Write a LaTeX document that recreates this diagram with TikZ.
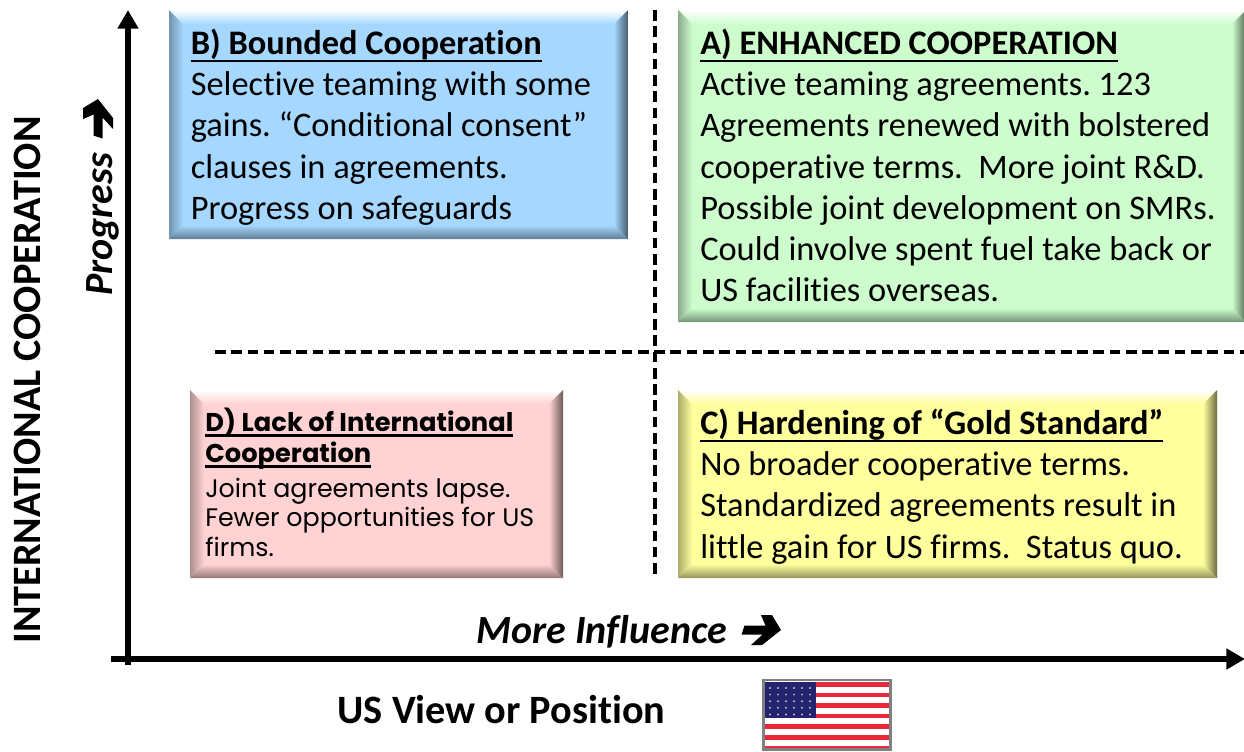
\documentclass[tikz,border=0pt]{standalone}
\usepackage{fontspec}
\setmainfont[Ligatures=NoCommon]{Carlito}
\newfontfamily\dfont{Poppins}
\usetikzlibrary{arrows.meta}
\frenchspacing
\newsavebox{\ulbox}
\newcommand{\ulined}[2][-5.6pt]{\sbox{\ulbox}{#2}\leavevmode\rlap{\rule[#1]{\wd\ulbox}{1.8pt}}\usebox{\ulbox}}
\definecolor{bbase}{HTML}{A6D8FF}
\definecolor{abase}{HTML}{CDFDCD}
\definecolor{dbase}{HTML}{FFD3D3}
\definecolor{cbase}{HTML}{FFFF9E}
\definecolor{flagred}{HTML}{E8283C}\definecolor{flagblue}{HTML}{23236F}
\tikzset{
  px/.style={x=0.75pt,y=-0.75pt},
  axisline/.style={line width=4.9pt,-{Triangle[length=14pt,width=15pt]}},
  divider/.style={line width=2.6pt,dash pattern=on 8pt off 4.2pt},
  bodytext/.style={anchor=north west,inner sep=0pt,align=left,font=\fontsize{25.8pt}{30.8pt}\selectfont},
  dhead/.style={anchor=north west,inner sep=0pt,align=left,font=\dfont\bfseries\fontsize{19.3pt}{23.2pt}\selectfont},
  dtext/.style={anchor=north west,inner sep=0pt,align=left,font=\dfont\fontsize{19pt}{22pt}\selectfont},
  axistitle/.style={inner sep=0pt,font=\bfseries\fontsize{30.2pt}{32pt}\selectfont},
  axisnote/.style={inner sep=0pt,font=\bfseries\itshape\fontsize{30pt}{32pt}\selectfont},
}
% #1 x1, #2 y1, #3 x2, #4 y2, #5 colour
\newcommand{\bevelbox}[5]{%
  \fill[#5] (#1,#2) rectangle (#3,#4);
  \shade[top color=white,bottom color=#5] (#1,#2) -- (#3,#2) -- (#3-14,#2+14) -- (#1+14,#2+14) -- cycle;
  \shade[left color=#5!68!black,right color=#5] (#1,#2) -- (#1+14,#2+14) -- (#1+14,#4-14) -- (#1,#4) -- cycle;
  \shade[top color=#5,middle color=#5!85!black,bottom color=#5!58!black] (#1,#4) -- (#1+14,#4-14) -- (#3-14,#4-14) -- (#3,#4) -- cycle;
  \shade[left color=#5,middle color=#5!92!black,right color=#5!42!black] (#3,#2) -- (#3-14,#2+14) -- (#3-14,#4-14) -- (#3,#4) -- cycle;
}
% block arrow: #1 centre x, #2 centre y, #3 rotation
\newcommand{\blockarrow}[3]{%
  \fill[shift={(#1,#2)},rotate=#3,xslant=0.33] (19,0) -- (5,-15) -- (-6,-15) -- (2,-4.5) -- (-19,-4.5) -- (-19,4.5) -- (2,4.5) -- (-6,15) -- (5,15) -- cycle;
}
\begin{document}
\begin{tikzpicture}[px]
\useasboundingbox (0,0) rectangle (1244,751);
\bevelbox{169}{10}{628}{239}{bbase}
\bevelbox{678}{10}{1246}{322}{abase}
\bevelbox{190}{390}{563}{578}{dbase}
\bevelbox{678}{390}{1217}{578}{cbase}
% dividers
\coordinate (vtop) at (655,10);
\coordinate (vbot) at (655,575);
\coordinate (hleft) at (215,352);
\coordinate (hright) at (1244,352);
\draw[divider] (vtop) -- (vbot);
\draw[divider] (hleft) -- (hright);
% axes
\coordinate (yfoot) at (128,665);
\coordinate (yhead) at (128,10);
\coordinate (xfoot) at (111,659);
\coordinate (xhead) at (1245,659);
\draw[axisline] (yfoot) -- (yhead);
\draw[axisline] (xfoot) -- (xhead);
% box texts
\node[bodytext] (btext) at (190.5,29) {\textbf{\ulined{B) Bounded Cooperation}}\\Selective teaming with some\\gains. “Conditional consent”\\clauses in agreements.\\Progress on safeguards};
\node[bodytext] (atext) at (700,29) {\textbf{\ulined{A) ENHANCED COOPERATION}}\\Active teaming agreements. 123\\Agreements renewed with bolstered\\cooperative terms.\ \ More joint R\&D.\\Possible joint development on SMRs.\\Could involve spent fuel take back or\\US facilities overseas.};
\node[bodytext] (ctext) at (700,409) {\textbf{\ulined{C) Hardening of “Gold Standard”}}\\No broader cooperative terms.\\Standardized agreements result in\\little gain for US firms.\ \ Status quo.};
\node[dhead] (dtitle) at (205,407.5) {\ulined[-4.2pt]{D) Lack of International}\\\ulined[-4.2pt]{Cooperation}};
\node[dtext] (dbody) at (205,478) {Joint agreements lapse.\\Fewer opportunities for US\\firms.};
% axis labels
\node[axistitle,rotate=90] (ylabel) at (27,380) {INTERNATIONAL COOPERATION};
\node[axistitle] (xlabel) at (501.5,710) {US View or Position};
\node[axisnote,rotate=90,anchor=west] (progress) at (103,296) {Progress};
\node[axisnote,anchor=west] (influence) at (476,632) {More Influence};
\blockarrow{98}{118}{90}
\blockarrow{762}{630}{0}
% flag
\fill[white] (763,680) rectangle (891,750);
\foreach \i in {0,...,6}{\fill[flagred] (765,682+\i*10.6) rectangle (889,686.5+\i*10.6);}
\fill[flagblue] (765,682) rectangle (816,718);
\foreach \r in {0,...,4}{\foreach \c in {0,...,5}{\fill[white!70!flagblue] (770+\c*8,688+\r*6.6) circle (1.1);}}
\draw[gray,line width=1.6pt] (763.5,680) rectangle (890.5,749.5);
\end{tikzpicture}
\end{document}
